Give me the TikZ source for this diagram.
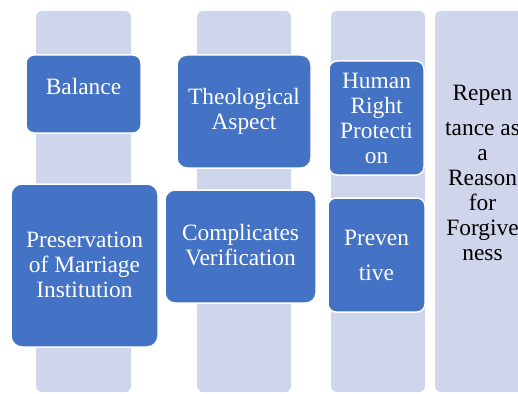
\documentclass[tikz,border=0pt]{standalone}
\usepackage{fontspec}
\setmainfont{Liberation Serif}
\definecolor{boxblue}{HTML}{4472C4}
\definecolor{bgpale}{HTML}{CFD5EA}
\begin{document}
\begin{tikzpicture}[x=1pt,y=-1pt,
  bgbar/.style={fill=bgpale, rounded corners=6pt, inner sep=0pt, outer sep=0pt, minimum height=381pt},
  bluebox/.style={fill=boxblue, draw=white, line width=1.5pt, inner sep=0pt, outer sep=0pt},
  lbl/.style={font=\fontsize{23.4}{25}\selectfont, align=center, inner sep=0pt},
  wlbl/.style={lbl, text=white},
]
\useasboundingbox (0,0) rectangle (518,393);
\clip (0,0) rectangle (518,393);
% background columns
\node[bgbar, minimum width=95pt] (bg1) at (83.5,201.5) {};
\node[bgbar, minimum width=94pt] (bg2) at (244,201.5) {};
\node[bgbar, minimum width=94pt] (bg3) at (378,201.5) {};
\node[bgbar, minimum width=95pt] (bg4) at (482.5,201.5) {};
% blue boxes
\node[bluebox, rounded corners=8pt, minimum width=115pt, minimum height=78pt] (balance) at (83.5,94) {};
\node[bluebox, rounded corners=11pt, minimum width=147pt, minimum height=163pt] (preserv) at (84.5,265.5) {};
\node[bluebox, rounded corners=10pt, minimum width=134pt, minimum height=113pt] (theo) at (244,111.5) {};
\node[bluebox, rounded corners=10pt, minimum width=151pt, minimum height=113pt] (compl) at (240.5,246.5) {};
\node[bluebox, rounded corners=8pt, minimum width=95pt, minimum height=114pt] (human) at (376.5,118) {};
\node[bluebox, rounded corners=8pt, minimum width=97pt, minimum height=114pt] (prevent) at (376.5,255) {};
% labels
\node[wlbl] (tbalance) at (83.5,86) {Balance};
\node[wlbl] (tpreserv) at (84.5,265) {Preservation\\of Marriage\\Institution};
\node[wlbl] (ttheo) at (244,111) {Theological\\Aspect};
\node[wlbl] (tcompl) at (240.5,245) {Complicates\\Verification};
\node[wlbl] (thuman) at (376.5,118) {Human\\Right\\Protecti\\on};
\node[wlbl] (tprevent) at (376.5,255) {Preven\\[10pt]tive};
\node[lbl, text=black] (trepent) at (482.5,173) {Repen\\[10pt]tance as\\a\\Reason\\for\\Forgive\\ness};
\end{tikzpicture}
\end{document}
